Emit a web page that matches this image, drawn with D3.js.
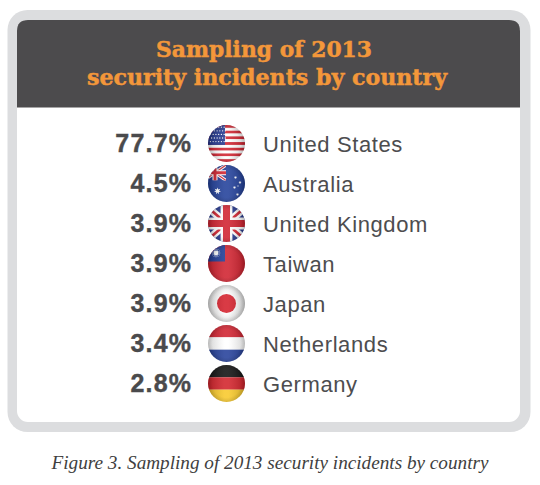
<!DOCTYPE html>
<html>
<head>
<meta charset="utf-8">
<script src="https://cdn.jsdelivr.net/npm/d3@7"></script>
<style>
  html, body { margin: 0; padding: 0; background: #ffffff; }
  svg { display: block; }
</style>
</head>
<body>
<div id="chart"></div>
<script>
// ---------- data ----------
const titleLines = ["Sampling of 2013", "security incidents by country"];
const countries = ["United States", "Australia", "United Kingdom", "Taiwan", "Japan", "Netherlands", "Germany"];
const shares = [77.7, 4.5, 3.9, 3.9, 3.9, 3.4, 2.8];
const flagCodes = ["us", "au", "gb", "tw", "jp", "nl", "de"];
const caption = "Figure 3. Sampling of 2013 security incidents by country";

const rows = countries.map((c, i) => ({ country: c, share: shares[i], flag: flagCodes[i] }));

// ---------- constants ----------
const RED = "#d0222f", BLUE = "#24378f", WHITE = "#ffffff";
const W = 540, H = 485;
const R = 18.5;

const svg = d3.select("#chart").append("svg").attr("width", W).attr("height", H);
svg.append("rect").attr("width", W).attr("height", H).attr("fill", "#ffffff");
const defs = svg.append("defs");

function roundedTop(x, y, w, h, r) {
  return `M${x},${y + h} L${x},${y + r} Q${x},${y} ${x + r},${y} L${x + w - r},${y} Q${x + w},${y} ${x + w},${y + r} L${x + w},${y + h} Z`;
}

defs.append("clipPath").attr("id", "flagClip")
  .append("circle").attr("cx", 0).attr("cy", 0).attr("r", R);

// gloss gradients
const gH = defs.append("linearGradient").attr("id", "glossH").attr("x1", 0).attr("x2", 1).attr("y1", 0).attr("y2", 0);
gH.append("stop").attr("offset", "0").attr("stop-color", "#000").attr("stop-opacity", 0.18);
gH.append("stop").attr("offset", "0.45").attr("stop-color", "#fff").attr("stop-opacity", 0.12);
gH.append("stop").attr("offset", "0.55").attr("stop-color", "#fff").attr("stop-opacity", 0.12);
gH.append("stop").attr("offset", "1").attr("stop-color", "#000").attr("stop-opacity", 0.18);
const gV = defs.append("radialGradient").attr("id", "glossR").attr("cx", "0.5").attr("cy", "0.5").attr("r", "0.5");
gV.append("stop").attr("offset", "0.75").attr("stop-color", "#000").attr("stop-opacity", 0);
gV.append("stop").attr("offset", "1").attr("stop-color", "#000").attr("stop-opacity", 0.12);
const jpBg = defs.append("radialGradient").attr("id", "jpBg").attr("cx", "0.5").attr("cy", "0.5").attr("r", "0.5");
jpBg.append("stop").attr("offset", "0.55").attr("stop-color", "#fbfbfb");
jpBg.append("stop").attr("offset", "1").attr("stop-color", "#dedede");

// frame
svg.append("rect").attr("x", 7.5).attr("y", 10).attr("width", 523).attr("height", 422)
  .attr("rx", 20).attr("fill", "#dcdddf");
svg.append("rect").attr("x", 17).attr("y", 20).attr("width", 503).attr("height", 402)
  .attr("rx", 11).attr("fill", "#ffffff");
svg.append("path").attr("d", roundedTop(17, 20, 503, 87.5, 11)).attr("fill", "#4c4b4d");

// title
const titleStarts = [156, 87];
const titleLens = [216, 360];
const titleBase = [57, 85];
svg.selectAll("text.title").data(titleLines).join("text")
  .attr("class", "title")
  .attr("x", (d, i) => titleStarts[i])
  .attr("y", (d, i) => titleBase[i])
  .attr("textLength", (d, i) => titleLens[i])
  .attr("lengthAdjust", "spacingAndGlyphs")
  .attr("font-family", "'DejaVu Serif', serif")
  .attr("font-weight", "bold")
  .attr("font-size", 23)
  .attr("fill", "#f3973a")
  .attr("stroke", "#f3973a")
  .attr("stroke-width", 0.5)
  .text(d => d);

// helpers for flags
function unionJack(s, x, y0, w, h, id) {
  const cp = defs.append("clipPath").attr("id", id);
  cp.append("rect").attr("x", x).attr("y", y0).attr("width", w).attr("height", h);
  const u = s.append("g").attr("clip-path", `url(#${id})`);
  u.append("rect").attr("x", x).attr("y", y0).attr("width", w).attr("height", h).attr("fill", BLUE);
  const line = (x1, y1, x2, y2, col, sw) => u.append("line")
    .attr("x1", x1).attr("y1", y1).attr("x2", x2).attr("y2", y2)
    .attr("stroke", col).attr("stroke-width", sw);
  line(x, y0, x + w, y0 + h, WHITE, h * 0.2);
  line(x + w, y0, x, y0 + h, WHITE, h * 0.2);
  line(x, y0, x + w, y0 + h, RED, h * 0.07);
  line(x + w, y0, x, y0 + h, RED, h * 0.07);
  line(x + w / 2, y0, x + w / 2, y0 + h, WHITE, h * 0.32);
  line(x, y0 + h / 2, x + w, y0 + h / 2, WHITE, h * 0.32);
  line(x + w / 2, y0, x + w / 2, y0 + h, RED, h * 0.19);
  line(x, y0 + h / 2, x + w, y0 + h / 2, RED, h * 0.19);
}

function star(s, x, y0, r, n, fill) {
  const pts = d3.range(n * 2).map(k => {
    const a = -Math.PI / 2 + k * Math.PI / n;
    const rr = k % 2 ? r * 0.45 : r;
    return [x + rr * Math.cos(a), y0 + rr * Math.sin(a)];
  });
  s.append("polygon").attr("points", pts.map(p => p.join(",")).join(" ")).attr("fill", fill);
}

function drawFlag(s, code) {
  const D = 2 * R;
  if (code === "us") {
    const sh = D / 13;
    d3.range(13).forEach(k => {
      s.append("rect").attr("x", -R).attr("y", -R + k * sh).attr("width", D).attr("height", sh + 0.05)
        .attr("fill", k % 2 ? WHITE : RED);
    });
    s.append("rect").attr("x", -R).attr("y", -R).attr("width", D * 0.46).attr("height", sh * 7).attr("fill", BLUE);
    d3.range(5).forEach(r => d3.range(6).forEach(c => {
      s.append("circle").attr("cx", -R + 2.4 + c * 2.75 + (r % 2) * 1.2).attr("cy", -R + 2.2 + r * 3.6)
        .attr("r", 0.65).attr("fill", WHITE);
    }));
  } else if (code === "au") {
    s.append("rect").attr("x", -R).attr("y", -R).attr("width", D).attr("height", D).attr("fill", "#22409a");
    unionJack(s, -R - 4, -R, 22, 15.5, "ujAU");
    star(s, -9, 7.5, 3.6, 7, WHITE);
    star(s, 9, -6, 1.6, 7, WHITE);
    star(s, 13.5, -1, 1.6, 7, WHITE);
    star(s, 8, 4, 1.6, 7, WHITE);
    star(s, 11, 11, 1.6, 7, WHITE);
    star(s, 11.5, 2.5, 0.9, 5, WHITE);
  } else if (code === "gb") {
    unionJack(s, -R - 3, -R, D + 6, D, "ujGB");
  } else if (code === "tw") {
    s.append("rect").attr("x", -R).attr("y", -R).attr("width", D).attr("height", D).attr("fill", RED);
    s.append("rect").attr("x", -R).attr("y", -R).attr("width", R - 1.5).attr("height", R - 2).attr("fill", "#1f3a93");
    star(s, -10.5, -10.5, 5, 12, WHITE);
    s.append("circle").attr("cx", -10.5).attr("cy", -10.5).attr("r", 2.9).attr("fill", "#1f3a93");
    s.append("circle").attr("cx", -10.5).attr("cy", -10.5).attr("r", 2.4).attr("fill", WHITE);
  } else if (code === "jp") {
    s.append("rect").attr("x", -R).attr("y", -R).attr("width", D).attr("height", D).attr("fill", "url(#jpBg)");
    s.append("circle").attr("cx", 0).attr("cy", 0).attr("r", 9.5).attr("fill", "#d4202c");
  } else if (code === "nl") {
    [RED, WHITE, "#25409a"].forEach((col, k) => {
      s.append("rect").attr("x", -R).attr("y", -R + k * D / 3).attr("width", D).attr("height", D / 3 + 0.05).attr("fill", col);
    });
  } else if (code === "de") {
    ["#111111", "#d2232b", "#f8c92a"].forEach((col, k) => {
      s.append("rect").attr("x", -R).attr("y", -R + k * D / 3).attr("width", D).attr("height", D / 3 + 0.05).attr("fill", col);
    });
  }
}

// rows
const y = d3.scaleBand().domain(countries).range([123.5, 403.5]).padding(0);
const cy = c => y(c) + y.bandwidth() / 2;
const fmt = d3.format(".1f");

const row = svg.append("g").selectAll("g.row").data(rows).join("g").attr("class", "row");

row.append("text")
  .attr("x", 192.2)
  .attr("y", d => cy(d.country) + 8.5)
  .attr("text-anchor", "end")
  .attr("font-family", "'Liberation Sans', Arial, sans-serif")
  .attr("font-weight", "bold")
  .attr("font-size", 25)
  .attr("letter-spacing", 1.2)
  .attr("fill", "#4a4a4c")
  .attr("stroke", "#4a4a4c")
  .attr("stroke-width", 0.4)
  .text(d => fmt(d.share) + "%");

row.append("text")
  .attr("x", 263)
  .attr("y", d => cy(d.country) + 8.5)
  .attr("font-family", "'Liberation Sans', Arial, sans-serif")
  .attr("font-size", 22)
  .attr("letter-spacing", 0.6)
  .attr("fill", "#4d4d4f")
  .text(d => d.country);

const flagG = row.append("g")
  .attr("transform", d => `translate(226.5,${cy(d.country)})`);
const inner = flagG.append("g").attr("clip-path", "url(#flagClip)");

inner.each(function (d) {
  const s = d3.select(this);
  drawFlag(s, d.flag);
  s.append("rect").attr("x", -R).attr("y", -R).attr("width", 2 * R).attr("height", 2 * R).attr("fill", "url(#glossH)");
  s.append("rect").attr("x", -R).attr("y", -R).attr("width", 2 * R).attr("height", 2 * R).attr("fill", "url(#glossR)");
});

// caption
svg.append("text")
  .attr("x", 51.5)
  .attr("y", 469)
  .attr("textLength", 437)
  .attr("lengthAdjust", "spacingAndGlyphs")
  .attr("font-family", "'Liberation Serif', 'Times New Roman', serif")
  .attr("font-style", "italic")
  .attr("font-size", 18.5)
  .attr("fill", "#3f3f41")
  .text(caption);
</script>
</body>
</html>
